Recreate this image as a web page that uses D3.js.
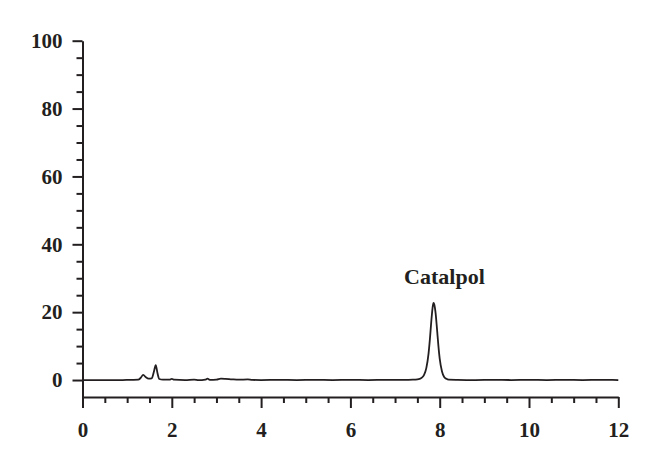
<!DOCTYPE html>
<html>
<head>
<meta charset="utf-8">
<script src="https://cdn.jsdelivr.net/npm/d3@7/dist/d3.min.js"></script>
<style>
  html, body { margin: 0; padding: 0; background: #fff; }
  svg { display: block; }
  .tick text { font-family: "Liberation Serif", "Times New Roman", serif; font-weight: bold; font-size: 21px; fill: #231f20; }
</style>
</head>
<body>
<svg id="chart" width="660" height="468"></svg>
<script>
// ---- data ----
const xMajorTicks = [0, 2, 4, 6, 8, 10, 12];
const xMinorTicks = [0.5, 1, 1.5, 2.5, 3, 3.5, 4.5, 5, 5.5, 6.5, 7, 7.5, 8.5, 9, 9.5, 10.5, 11, 11.5];
const yMajorTicks = [0, 20, 40, 60, 80, 100];
const yMinorTicks = [5, 10, 15, 25, 30, 35, 45, 50, 55, 65, 70, 75, 85, 90, 95];
const peakLabel = "Catalpol";
const peakLabelPos = [7.86, 28.4];

const times = [0, 0.3, 0.6, 0.9, 1.1, 1.25, 1.3, 1.36, 1.42, 1.48, 1.55, 1.6, 1.64, 1.68, 1.72, 1.8,
  1.95, 2.0, 2.05, 2.3, 2.5, 2.6, 2.75, 2.8, 2.85, 3.0, 3.1, 3.2, 3.35, 3.5, 3.7, 3.8, 4.0,
  4.4, 4.8, 5.2, 5.6, 6.0, 6.4, 6.8, 7.2, 7.4, 7.5, 7.55, 7.6, 7.65, 7.7, 7.75, 7.78, 7.81, 7.84,
  7.86, 7.88, 7.91, 7.94, 7.97, 8.0, 8.05, 8.1, 8.15, 8.2, 8.4, 8.8, 9.2, 9.6, 10.0, 10.4, 10.8, 11.2, 11.6, 12.0];
const signal = [0.0, 0.0, -0.05, 0.0, 0.05, 0.1, 0.6, 1.5, 0.8, 0.4, 0.5, 2.5, 4.4, 2.0, 0.3, 0.1,
  0.1, 0.35, 0.1, 0.0, 0.1, -0.05, 0.1, 0.4, 0.05, 0.1, 0.4, 0.35, 0.2, 0.1, 0.2, 0.05, 0.0,
  0.05, 0.0, 0.05, 0.0, 0.05, 0.0, 0.05, 0.05, 0.1, 0.2, 0.35, 0.7, 1.5, 3.5, 7.8, 12.0, 17.0, 21.2,
  22.7, 22.2, 19.5, 15.0, 10.2, 6.3, 2.6, 0.9, 0.35, 0.12, 0.05, 0.0, 0.05, 0.0, 0.05, 0.0, 0.05, 0.0, 0.05, 0.0];

// ---- layout ----
const svg = d3.select("#chart");
const x = d3.scaleLinear().domain([0, 12]).range([82.5, 618.3]);
const y = d3.scaleLinear().domain([-5, 100]).range([397, 40.7]);
const ink = "#231f20";

// y axis
const yMajor = svg.append("g").attr("transform", `translate(${x(0)},0)`)
  .call(d3.axisLeft(y).tickValues(yMajorTicks).tickSize(10).tickSizeOuter(0).tickPadding(10).tickFormat(d3.format("d")));
const yMinor = svg.append("g").attr("transform", `translate(${x(0)},0)`)
  .call(d3.axisLeft(y).tickValues(yMinorTicks).tickSize(6).tickSizeOuter(0).tickFormat(""));
// x axis
const xMajor = svg.append("g").attr("transform", `translate(0,${y(-5)})`)
  .call(d3.axisBottom(x).tickValues(xMajorTicks).tickSize(11).tickSizeOuter(0).tickPadding(14).tickFormat(d3.format("d")));
const xMinor = svg.append("g").attr("transform", `translate(0,${y(-5)})`)
  .call(d3.axisBottom(x).tickValues(xMinorTicks).tickSize(6).tickSizeOuter(0).tickFormat(""));

svg.selectAll(".domain, .tick line").attr("stroke", ink).attr("stroke-width", 2);
svg.selectAll(".tick text").attr("fill", ink);
yMinor.select(".domain").remove();
xMinor.select(".domain").remove();

// trace
const data = times.map((t, i) => [t, signal[i]]);
const line = d3.line().x(d => x(d[0])).y(d => y(d[1])).curve(d3.curveMonotoneX);
svg.append("path").datum(data).attr("d", line)
  .attr("fill", "none").attr("stroke", ink).attr("stroke-width", 1.8).attr("stroke-linejoin", "round");

// peak label
svg.append("text").attr("x", x(peakLabelPos[0]) + 11).attr("y", y(peakLabelPos[1]))
  .attr("text-anchor", "middle")
  .style("font-family", '"Liberation Serif", "Times New Roman", serif')
  .style("font-weight", "bold").style("font-size", "22px").attr("fill", ink)
  .text(peakLabel);
</script>
</body>
</html>
